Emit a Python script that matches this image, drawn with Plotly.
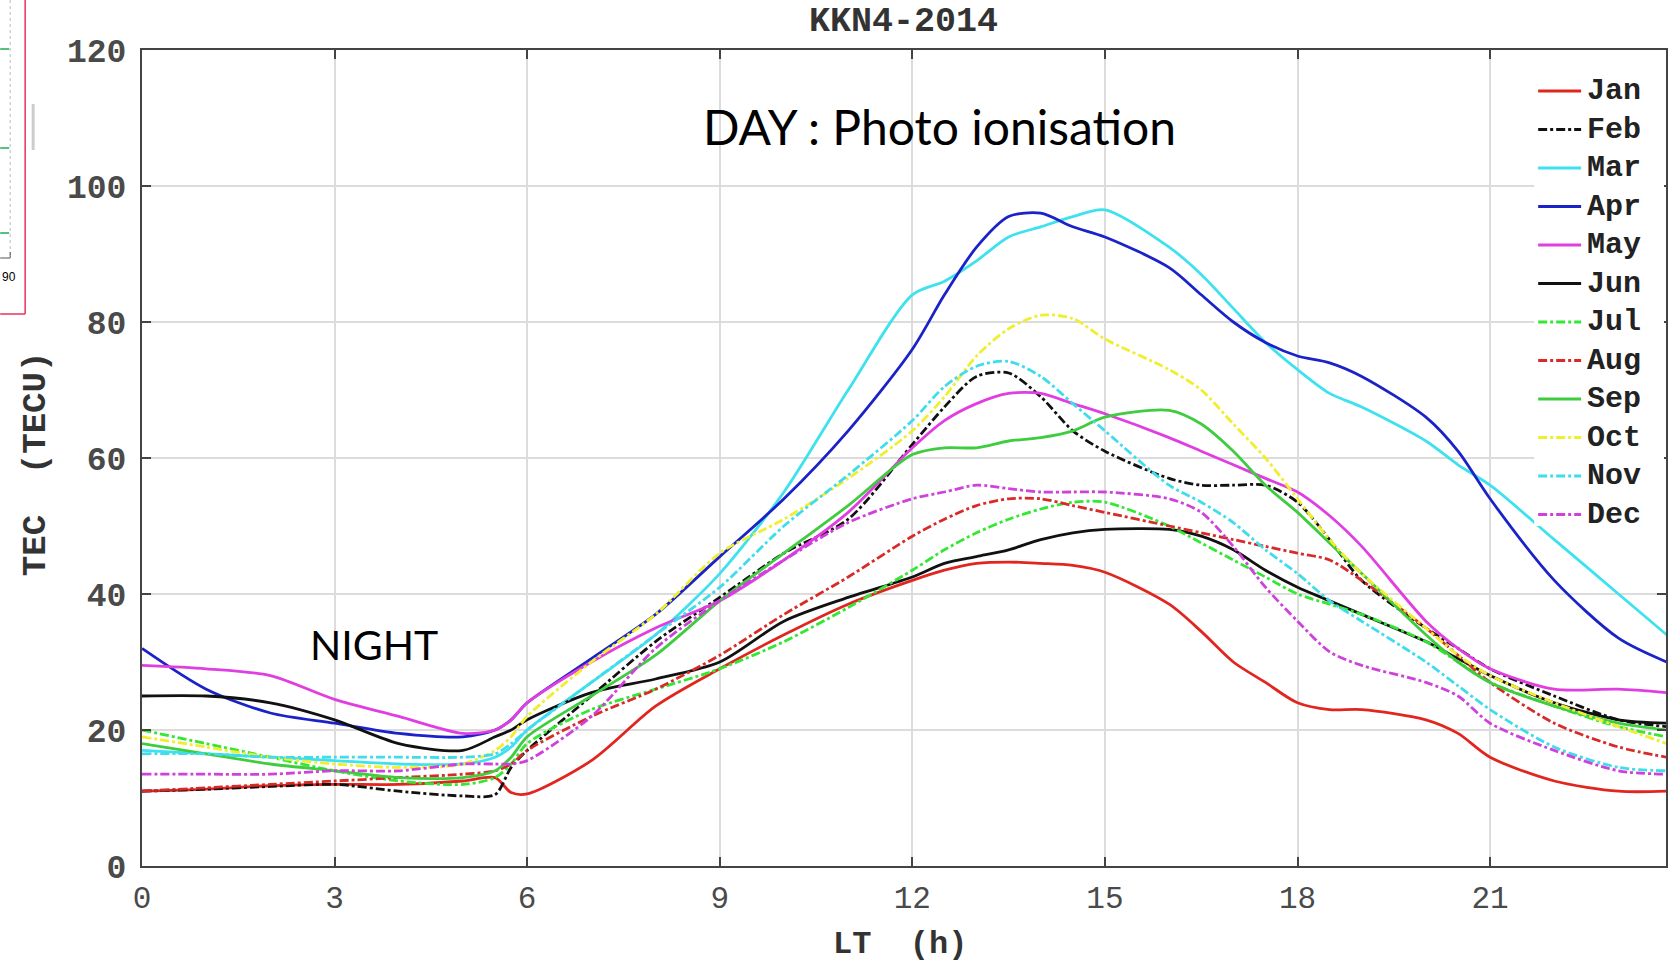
import plotly.graph_objects as go

HOURS = [0, 1, 2, 3, 4, 5, 5.5, 5.75, 6, 7, 8, 9, 10, 11, 12, 12.5, 13, 13.5, 14, 14.5,
         15, 16, 16.5, 17, 17.5, 18, 18.5, 19, 20, 20.5, 21, 22, 23, 23.75]

JAN = [11, 11.3, 11.8, 12, 12, 12.5, 13, 10.8, 10.6, 15.5, 23.5, 29, 34, 38.5, 42, 43.5, 44.5, 44.7, 44.5, 44.2,
       43.2, 38.5, 34.5, 30, 27, 24, 23, 23, 21.5, 19.5, 16, 12.5, 11, 11]
FEB = [11, 11.3, 11.7, 12, 11, 10.3, 10.5, 14.5, 17, 25, 33, 39.5, 46, 51, 62, 67.5, 72, 72.5, 69, 64,
       61, 57, 56, 56, 56, 53.5, 48, 42, 35, 32, 29, 25, 21.5, 20.5]
MAR = [17, 16.5, 16, 15.5, 15, 15, 16, 17.5, 20, 27, 34, 43, 55, 70, 84, 86, 89, 92.5, 94, 95.5,
       96.5, 91, 87, 82, 77, 73, 69.5, 67.5, 62.5, 59, 56, 48, 40, 34]
APR = [32, 26, 22.5, 21, 19.5, 19, 20, 21.5, 24, 30.5, 37, 45.5, 54, 64, 76, 84, 91, 95.5, 96, 94,
       92.5, 88, 84, 80, 77, 75, 74, 72, 66, 61, 54, 42, 33.5, 30]
MAY = [29.5, 29, 28, 24.5, 22, 19.5, 20, 21.5, 24, 30, 35, 39, 45, 52, 61.5, 65.5, 68, 69.5, 69.5, 68,
       66.5, 63, 61, 59, 57, 55, 51.5, 47, 36, 32, 29, 26, 26, 25.5]
JUN = [25, 25, 24, 21.5, 18, 17, 19, 20, 21.5, 25.5, 27.5, 30, 36, 39.5, 42.5, 44.5, 45.5, 46.5, 48, 49,
       49.5, 49.5, 48.5, 46.5, 43.5, 41, 39, 37, 33, 30.5, 28, 24, 21.5, 21]
JUL = [20, 18, 16, 14, 12.5, 12, 13, 15, 18, 23, 26, 29, 33, 38, 43.5, 46.5, 49, 51, 52.5, 53.5,
       53.5, 50, 47.5, 45, 42.5, 40, 38.5, 37, 33, 30, 27, 23.5, 20.5, 19]
AUG = [11, 11.5, 12, 12.5, 13, 13.5, 14, 15, 17, 22, 26, 31, 37, 42.5, 48.5, 51, 53, 54, 54, 53,
       52, 50, 49, 48, 47, 46, 45, 42, 35, 31, 27, 21, 17.5, 16]
SEP = [18, 16.5, 15, 14, 13, 13, 14, 16, 19, 25, 31, 39, 46, 53, 60.5, 61.5, 61.5, 62.5, 63, 64,
       66, 67, 65, 61, 56, 52, 47.5, 43, 34, 30, 27, 23.5, 21, 20]
OCT = [19, 17.5, 16, 15, 14.5, 15, 17, 19, 22, 30, 37, 46, 51, 57, 64, 69, 75, 79, 81, 80.5,
       77.5, 73, 70, 65, 60, 54, 48, 43, 35, 31, 28, 24, 20.5, 18]
NOV = [16.5, 16.5, 16, 16, 16, 16, 16.5, 18, 20, 27, 34, 41, 50, 57.5, 65.5, 70.5, 73.5, 74.2, 72, 68,
       64, 56, 53.5, 50.5, 46.5, 43, 39, 36, 30, 26.5, 23, 17.5, 14.5, 14]
DEC = [13.5, 13.5, 13.5, 14, 14, 15, 15, 15, 15.5, 22, 32, 39, 45, 50.5, 54, 55, 56, 55.5, 55, 55,
       55, 54, 52, 47, 41, 36, 31.5, 29.5, 27, 25, 21, 17, 14, 13.5]

MONTHS = ["Jan", "Feb", "Mar", "Apr", "May", "Jun", "Jul", "Aug", "Sep", "Oct", "Nov", "Dec"]
SERIES = [JAN, FEB, MAR, APR, MAY, JUN, JUL, AUG, SEP, OCT, NOV, DEC]
COLORS = ["#e0261e", "#111111", "#3de2ee", "#1a22c8", "#e03ee0", "#111111",
          "#33e833", "#d92a2a", "#3fcc3f", "#f0ee2e", "#3fdcec", "#d040dc"]
DASHES = ["solid", "dashdot", "solid", "solid", "solid", "solid",
          "dashdot", "dashdot", "solid", "dashdot", "dashdot", "dashdot"]

X_TICKS = [0, 3, 6, 9, 12, 15, 18, 21]
Y_TICKS = [0, 20, 40, 60, 80, 100, 120]

W, H = 1673, 964
L, R, T, B = 142, 5, 50, 98
PW, PH = W - L - R, H - T - B


def px(x):
    return (x - L) / PW


def py(y):
    return (H - B - y) / PH


LINE_W = 2.8

fig = go.Figure()
for name, vals, col, dash in zip(MONTHS, SERIES, COLORS, DASHES):
    fig.add_trace(go.Scatter(
        x=HOURS, y=vals, name=name, mode="lines", showlegend=False,
        line=dict(color=col, width=LINE_W, dash=dash, shape="spline", smoothing=0.8),
    ))

mono = "Liberation Mono, Courier New, monospace"
axis_common = dict(
    showline=True, linecolor="#444444", linewidth=2, mirror="ticks",
    ticks="inside", ticklen=9, tickwidth=2, tickcolor="#444444",
    showgrid=True, gridcolor="#dcdcdc", gridwidth=1.5, zeroline=False,
)
fig.update_xaxes(range=[0, 23.74], tickvals=X_TICKS, ticktext=[str(v) for v in X_TICKS],
                 tickfont=dict(family=mono, size=31, color="#4a4a4a"),
                 ticklabelstandoff=3, **axis_common)
fig.update_yaxes(range=[0, 120], tickvals=Y_TICKS, ticktext=[str(v) for v in Y_TICKS],
                 tickfont=dict(family=mono, size=33, color="#4a4a4a", weight="bold"),
                 ticklabelstandoff=7, **axis_common)

annotations = [
    dict(text="KKN4-2014", x=px(904), y=py(22), xref="paper", yref="paper", showarrow=False,
         font=dict(family=mono, size=35, color="#333333", weight="bold"), xanchor="center", yanchor="middle"),
    dict(text="LT  (h)", x=px(901), y=py(944), xref="paper", yref="paper", showarrow=False,
         font=dict(family=mono, size=32, color="#333333", weight="bold"), xanchor="center", yanchor="middle"),
    dict(text="TEC  (TECU)", x=px(36), y=py(464), xref="paper", yref="paper", showarrow=False, textangle=-90,
         font=dict(family=mono, size=34, color="#333333", weight="bold"), xanchor="center", yanchor="middle"),
    dict(text="DAY : Photo ionisation", x=px(941), y=py(126), xref="paper", yref="paper", showarrow=False,
         font=dict(family="Lato, Open Sans, sans-serif", size=48, color="#000000"), xanchor="center", yanchor="middle"),
    dict(text="NIGHT", x=px(374), y=py(644), xref="paper", yref="paper", showarrow=False,
         font=dict(family="Lato, Open Sans, sans-serif", size=41, color="#000000"), xanchor="center", yanchor="middle"),
    dict(text="90", x=px(9), y=py(277), xref="paper", yref="paper", showarrow=False,
         font=dict(family="Liberation Sans, Arial", size=12, color="#000000"), xanchor="center", yanchor="middle"),
]

shapes = [
    # remnant of a neighbouring figure at the left edge
    dict(type="line", xref="paper", yref="paper", x0=px(25), x1=px(25), y0=py(0), y1=py(314),
         line=dict(color="#e8305a", width=1.5)),
    dict(type="line", xref="paper", yref="paper", x0=px(0), x1=px(25), y0=py(314), y1=py(314),
         line=dict(color="#e8305a", width=1.5)),
    dict(type="line", xref="paper", yref="paper", x0=px(10), x1=px(10), y0=py(0), y1=py(258),
         line=dict(color="#bbbbbb", width=1, dash="dot")),
    dict(type="line", xref="paper", yref="paper", x0=px(0), x1=px(10), y0=py(258), y1=py(258),
         line=dict(color="#555555", width=1)),
    dict(type="line", xref="paper", yref="paper", x0=px(10), x1=px(10), y0=py(258), y1=py(252),
         line=dict(color="#555555", width=1)),
    dict(type="line", xref="paper", yref="paper", x0=px(33), x1=px(33), y0=py(104), y1=py(150),
         line=dict(color="#cccccc", width=3)),
]
for gy in [49, 148, 233]:
    shapes.append(dict(type="line", xref="paper", yref="paper", x0=px(0), x1=px(9), y0=py(gy), y1=py(gy),
                       line=dict(color="#22aa55", width=1.5)))

# legend box (drawn by hand to match the original's large font with tight row spacing)
LEG_TOP, LEG_STEP = 91, 38.5
shapes.append(dict(type="rect", xref="paper", yref="paper", layer="above",
                   x0=px(1536), x1=px(1666), y0=py(70), y1=py(526),
                   fillcolor="white", line=dict(width=0)))
for i, (name, col, dash) in enumerate(zip(MONTHS, COLORS, DASHES)):
    yy = LEG_TOP + i * LEG_STEP
    shapes.append(dict(type="line", xref="paper", yref="paper", layer="above",
                       x0=px(1540), x1=px(1583), y0=py(yy), y1=py(yy),
                       line=dict(color=col, width=LINE_W, dash=dash)))
    annotations.append(dict(text=name, x=px(1587), y=py(yy), xref="paper", yref="paper", showarrow=False,
                            xanchor="left", yanchor="middle",
                            font=dict(family=mono, size=30, color="#222222", weight="bold")))

fig.update_layout(
    width=W, height=H,
    margin=dict(l=L, r=R, t=T, b=B),
    paper_bgcolor="white", plot_bgcolor="white",
    showlegend=False,
    annotations=annotations,
    shapes=shapes,
)

fig.write_html("out.html")
